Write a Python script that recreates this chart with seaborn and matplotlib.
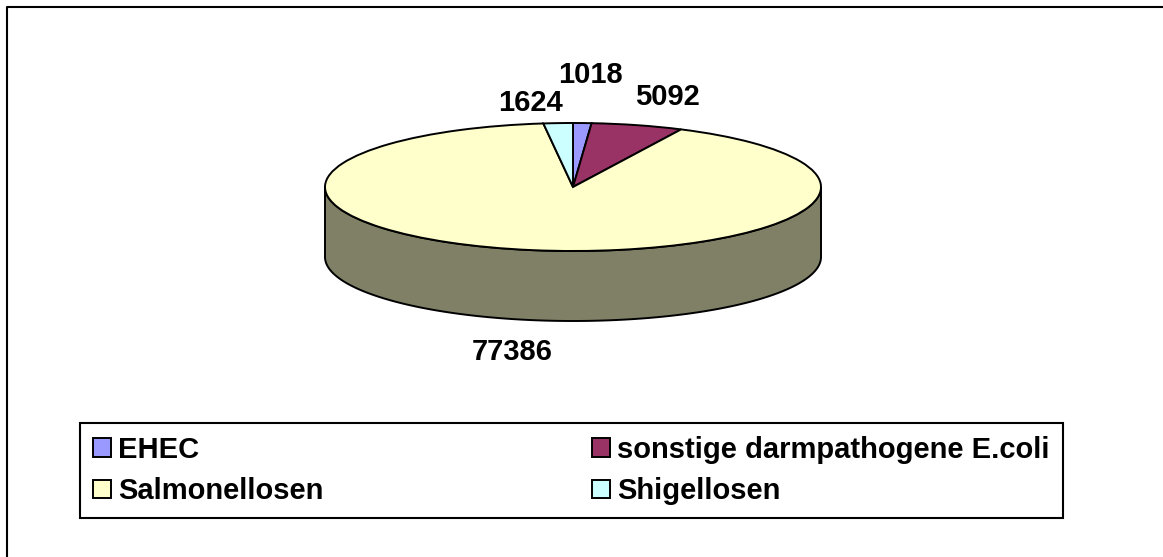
import numpy as np
import matplotlib.pyplot as plt
from matplotlib.patches import Patch, Polygon
from matplotlib.lines import Line2D
import seaborn as sns

# data
categories = ["EHEC", "sonstige darmpathogene E.coli", "Salmonellosen", "Shigellosen"]
cases = [1018, 5092, 77386, 1624]
colors = ["#9999FF", "#993366", "#FFFFCC", "#CCFFFF"]
side_color = "#808066"

sns.set_style("white")
plt.rcParams['font.family'] = ['Liberation Sans', 'DejaVu Sans']
plt.rcParams['text.color'] = 'black'

W, H = 1163, 557
fig = plt.figure(figsize=(W / 100, H / 100), dpi=100)

# pie geometry in pixels (center, radii, depth of the rim)
cx, cy, rx, ry, depth = 573, 187, 248, 64, 70

ax = fig.add_axes([0, 0, 1, 1])
wedges, _ = ax.pie(cases, colors=colors, startangle=90, counterclock=False,
                   wedgeprops=dict(edgecolor='black', linewidth=1.4, zorder=2))
# squash the circle into an ellipse
ax.set_aspect('auto')
ax.set_xlim(-cx / rx, (W - cx) / rx)
ax.set_ylim((cy - H) / ry, cy / ry)
ax.axis('off')

# front rim of the 3D pie
t = np.linspace(np.pi, 2 * np.pi, 200)
d = depth / ry
top = np.column_stack([np.cos(t), np.sin(t)])
bottom = np.column_stack([np.cos(t), np.sin(t) - d])[::-1]
ax.add_patch(Polygon(np.vstack([top, bottom]), closed=True, facecolor=side_color,
                     edgecolor='black', linewidth=1.4, zorder=1))

# value labels (pixel positions, same order as cases)
label_px = [(590, 75), (667, 97), (512, 352), (531, 103)]
for v, (px, py) in zip(cases, label_px):
    ax.text((px - cx) / rx, (cy - py) / ry, str(v), ha='center', va='center',
            fontsize=21, fontweight='bold', color='black')

# legend, filled row by row
order = [0, 2, 1, 3]
handles = [Patch(facecolor=colors[i], edgecolor='black', linewidth=1.4) for i in order]
labels = [categories[i] for i in order]
leg = fig.legend(handles, labels, loc='upper left', ncol=2, mode='expand',
                 bbox_to_anchor=(80 / W, 0, (1063 - 80) / W, (H - 423) / H),
                 borderaxespad=0, frameon=True, fancybox=False, framealpha=1,
                 edgecolor='black', prop={'weight': 'bold', 'size': 21},
                 handlelength=0.62, handleheight=0.62, handletextpad=0.25,
                 borderpad=0.45, labelspacing=0.45, columnspacing=0.5)
leg.get_frame().set_linewidth(1.5)

# chart border: only left and top edges fall inside the image
fig.lines.append(Line2D([7 / W, 7 / W, 1], [0, 1 - 7 / H, 1 - 7 / H],
                        transform=fig.transFigure, color='black', linewidth=1.5))

fig.savefig('out.png', dpi=100)
